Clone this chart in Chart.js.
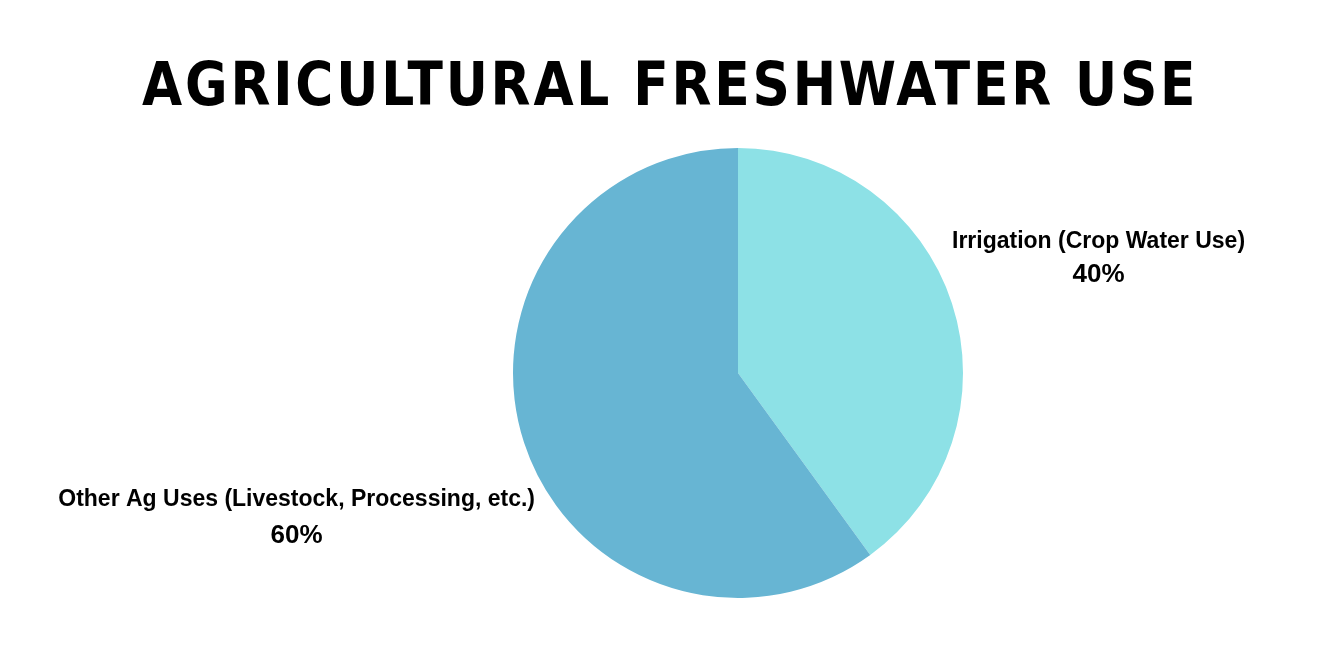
<!DOCTYPE html>
<html>
<head>
<meta charset="utf-8">
<script src="https://cdn.jsdelivr.net/npm/chart.js@4"></script>
<style>
  html, body { margin: 0; padding: 0; background: #ffffff; }
  #wrap { position: relative; width: 1340px; height: 656px; overflow: hidden; }
  #title {
    position: absolute; left: 0; top: 44px; width: 1340px; margin: 0;
    text-align: center; font-family: "DejaVu Sans Condensed", "DejaVu Sans", sans-serif;
    font-weight: bold; font-size: 61px; letter-spacing: 3px; color: #000; line-height: 80px;
    transform: scaleX(0.945); transform-origin: 674px 0;
  }
  canvas { position: absolute; left: 0; top: 0; }
</style>
</head>
<body>
<div id="wrap">
  <h1 id="title">AGRICULTURAL FRESHWATER USE</h1>
  <canvas id="chart" width="1340" height="656"></canvas>
</div>
<script>
// 数据
const labels = ['Irrigation (Crop Water Use)', 'Other Ag Uses (Livestock, Processing, etc.)'];
const values = [40, 60];
const colors = ['#8de1e6', '#67b5d3'];

// 标签插件：名称 + 百分比
const sliceLabels = {
  id: 'sliceLabels',
  afterDatasetsDraw(chart) {
    const ctx = chart.ctx;
    const meta = chart.getDatasetMeta(0);
    const total = values.reduce((a, b) => a + b, 0);
    ctx.save();
    ctx.fillStyle = '#000';
    ctx.textAlign = 'center';
    ctx.textBaseline = 'middle';
    meta.data.forEach((arc, i) => {
      const mid = (arc.startAngle + arc.endAngle) / 2;
      const r = arc.outerRadius;
      const right = Math.cos(mid) > 0;
      ctx.font = 'bold 23px "Liberation Sans", sans-serif';
      const w = ctx.measureText(labels[i]).width;
      const ax = arc.x + Math.cos(mid) * r;
      const ay = arc.y + Math.sin(mid) * r;
      const cx = right ? ax + w / 2 : ax + 11 - w / 2;
      const y1 = right ? ay - 62 : ay + 57;
      ctx.fillText(labels[i], cx, y1);
      ctx.font = 'bold 26px "Liberation Sans", sans-serif';
      ctx.fillText(Math.round(values[i] / total * 100) + '%', cx, y1 + (right ? 33 : 36));
    });
    ctx.restore();
  }
};

new Chart(document.getElementById('chart'), {
  type: 'pie',
  data: {
    labels: labels,
    datasets: [{
      data: values,
      backgroundColor: colors,
      borderWidth: 0,
      hoverOffset: 0
    }]
  },
  options: {
    responsive: false,
    animation: false,
    layout: { padding: { top: 148, bottom: 58, left: 513, right: 377 } },
    plugins: {
      legend: { display: false },
      tooltip: { enabled: false }
    }
  },
  plugins: [sliceLabels]
});
</script>
</body>
</html>
